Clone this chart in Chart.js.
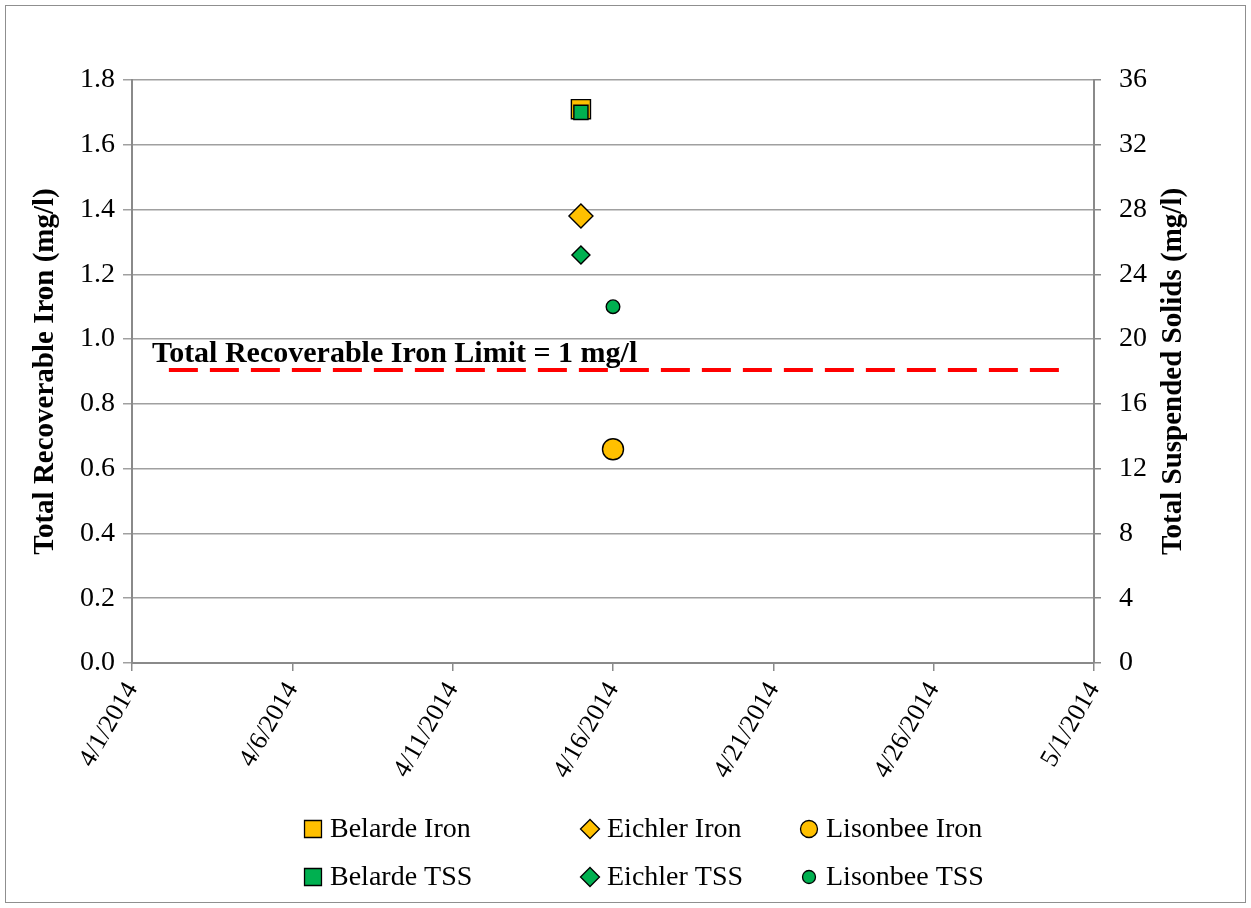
<!DOCTYPE html>
<html>
<head>
<meta charset="utf-8">
<title>Iron and TSS, April 2014</title>
<script src="https://cdn.jsdelivr.net/npm/chart.js@4.4.1/dist/chart.umd.min.js"></script>
<style>
  html, body { margin: 0; padding: 0; background: #ffffff; }
  #wrap { position: relative; width: 1251px; height: 908px; }
</style>
</head>
<body>
<div id="wrap"><canvas id="chart" width="1251" height="908"></canvas></div>
<script>
// Sampling sites and the date each was sampled
const sites = ['Belarde', 'Eichler', 'Lisonbee'];
const sampleDates = ['4/15/2014', '4/15/2014', '4/16/2014'];
// Total recoverable iron (mg/l), one per site
const ironValues = [1.71, 1.38, 0.66];
// Total suspended solids (mg/l), one per site
const tssValues = [34, 25.2, 22];

// Axis tick labels
const dateTicks = ['4/1/2014', '4/6/2014', '4/11/2014', '4/16/2014', '4/21/2014', '4/26/2014', '5/1/2014'];
const ironTicks = [0, 0.2, 0.4, 0.6, 0.8, 1.0, 1.2, 1.4, 1.6, 1.8];
const tssTicks = [0, 4, 8, 12, 16, 20, 24, 28, 32, 36];

// Iron limit reference line
const limitText = 'Total Recoverable Iron Limit = 1 mg/l';
const limitDates = ['4/2/2014', '4/30/2014'];
const limitLevel = [0.905, 0.905];

const FONT = "'Liberation Serif', 'Times New Roman', serif";
const AXIS_GREY = '#8a8a8a';
const GRID_GREY = '#a0a0a0';
const IRON_FILL = '#FFC000';
const TSS_FILL = '#00B050';

// days since 4/1/2014
function dayNum(s) {
  const [m, d, y] = s.split('/').map(Number);
  return (Date.UTC(y, m - 1, d) - Date.UTC(2014, 3, 1)) / 86400000;
}

const shapes = ['rect', 'rectRot', 'circle'];
const ironRadius = [13.5, 12, 10.5];
const tssRadius = [10, 9, 6.8];
const legendRadius = { iron: [12, 9.5, 8.5], tss: [12, 9.5, 6.5] };

const datasets = [];
sites.forEach((site, i) => {
  datasets.push({
    label: site + ' Iron',
    data: [{ x: dayNum(sampleDates[i]), y: ironValues[i] }],
    yAxisID: 'y',
    pointStyle: shapes[i],
    pointRadius: ironRadius[i],
    pointHoverRadius: ironRadius[i],
    backgroundColor: IRON_FILL,
    borderColor: '#000000',
    borderWidth: 1.4,
    order: 1,
    legendRow: 0, legendCol: i, legendSize: legendRadius.iron[i]
  });
});
sites.forEach((site, i) => {
  datasets.push({
    label: site + ' TSS',
    data: [{ x: dayNum(sampleDates[i]), y: tssValues[i] }],
    yAxisID: 'y2',
    pointStyle: shapes[i],
    pointRadius: tssRadius[i],
    pointHoverRadius: tssRadius[i],
    backgroundColor: TSS_FILL,
    borderColor: '#000000',
    borderWidth: 1.4,
    order: 0,
    legendRow: 1, legendCol: i, legendSize: legendRadius.tss[i]
  });
});
datasets.push({
  label: 'limit',
  type: 'line',
  data: [
    { x: dayNum(limitDates[0]) + 0.15, y: limitLevel[0] },
    { x: dayNum(limitDates[1]), y: limitLevel[1] }
  ],
  yAxisID: 'y',
  borderColor: '#FF0000',
  borderWidth: 4,
  borderDash: [29, 12],
  pointRadius: 0,
  fill: false,
  order: 2,
  isLimit: true
});

// Page frame, limit caption, right-hand title and the legend grid
const decorations = {
  id: 'decorations',
  beforeDraw(chart) {
    const ctx = chart.ctx;
    ctx.save();
    ctx.fillStyle = '#ffffff';
    ctx.fillRect(0, 0, chart.width, chart.height);
    ctx.strokeStyle = '#8f8f8f';
    ctx.lineWidth = 1;
    ctx.strokeRect(5.5, 5.5, chart.width - 11, chart.height - 11);
    ctx.restore();
  },
  afterDraw(chart) {
    const ctx = chart.ctx;
    const area = chart.chartArea;
    const xs = chart.scales.x, ys = chart.scales.y;
    ctx.save();

    // caption above the limit line
    const lx = xs.getPixelForValue(dayNum(limitDates[0]) + 0.15) - 17;
    const ly = ys.getPixelForValue(limitLevel[0]) - 8;
    ctx.fillStyle = '#000000';
    ctx.font = 'bold 30px ' + FONT;
    ctx.textAlign = 'left';
    ctx.textBaseline = 'alphabetic';
    ctx.fillText(limitText, lx, ly);

    // right-hand axis title, reading bottom to top
    ctx.translate(1174, (area.top + area.bottom) / 2);
    ctx.rotate(-Math.PI / 2);
    ctx.textAlign = 'center';
    ctx.textBaseline = 'middle';
    ctx.font = 'bold 29px ' + FONT;
    ctx.fillText('Total Suspended Solids (mg/l)', 0, 0);
    ctx.restore();

    // legend: iron on the first row, TSS on the second
    const colX = [313, 590, 809];
    const rowY = [829, 877];
    ctx.save();
    ctx.font = '28px ' + FONT;
    ctx.textAlign = 'left';
    ctx.textBaseline = 'middle';
    chart.data.datasets.forEach(ds => {
      if (ds.isLimit) return;
      const cx = colX[ds.legendCol], cy = rowY[ds.legendRow];
      ctx.fillStyle = ds.backgroundColor;
      ctx.strokeStyle = ds.borderColor;
      ctx.lineWidth = 1.3;
      Chart.helpers.drawPoint(ctx, { pointStyle: ds.pointStyle, radius: ds.legendSize, borderWidth: 1.3, rotation: 0 }, cx, cy);
      ctx.fillStyle = '#000000';
      ctx.fillText(ds.label, cx + 17, cy + 1);
    });
    ctx.restore();
  }
};

new Chart(document.getElementById('chart'), {
  type: 'scatter',
  data: { datasets },
  plugins: [decorations],
  options: {
    responsive: false,
    animation: false,
    events: [],
    layout: { padding: { top: 80, left: 0, right: 0, bottom: 0 } },
    plugins: { legend: { display: false }, tooltip: { enabled: false } },
    scales: {
      x: {
        type: 'linear',
        min: dayNum(dateTicks[0]),
        max: dayNum(dateTicks[dateTicks.length - 1]),
        afterBuildTicks(scale) { scale.ticks = dateTicks.map(s => ({ value: dayNum(s) })); },
        afterFit(scale) { scale.height = 245; },
        ticks: {
          autoSkip: false,
          minRotation: 60, maxRotation: 60,
          padding: 6,
          color: '#000000',
          font: { family: FONT, size: 26 },
          callback(value, index) { return dateTicks[index]; }
        },
        grid: { drawOnChartArea: false, drawTicks: true, tickLength: 8, color: AXIS_GREY, lineWidth: 1.5 },
        border: { display: true, color: AXIS_GREY, width: 2 }
      },
      y: {
        position: 'left',
        min: ironTicks[0],
        max: ironTicks[ironTicks.length - 1],
        afterBuildTicks(scale) { scale.ticks = ironTicks.map(v => ({ value: v })); },
        afterFit(scale) { scale.width = 132; },
        ticks: {
          padding: 8,
          color: '#000000',
          font: { family: FONT, size: 28 },
          callback(value) { return Number(value).toFixed(1); }
        },
        grid: { color: GRID_GREY, lineWidth: 1.5, tickLength: 9, drawTicks: true },
        border: { display: true, color: AXIS_GREY, width: 2 },
        title: {
          display: true,
          text: 'Total Recoverable Iron (mg/l)',
          color: '#000000',
          font: { family: FONT, size: 29, weight: 'bold' },
          padding: { top: 28, bottom: 0 }
        }
      },
      y2: {
        position: 'right',
        min: tssTicks[0],
        max: tssTicks[tssTicks.length - 1],
        afterBuildTicks(scale) { scale.ticks = tssTicks.map(v => ({ value: v })); },
        afterFit(scale) { scale.width = 157; },
        ticks: {
          padding: 18,
          color: '#000000',
          font: { family: FONT, size: 28 },
          callback(value) { return String(value); }
        },
        grid: { drawOnChartArea: false, drawTicks: true, tickLength: 7, color: AXIS_GREY, lineWidth: 1.5 },
        border: { display: true, color: AXIS_GREY, width: 2 }
      }
    }
  }
});
</script>
</body>
</html>
